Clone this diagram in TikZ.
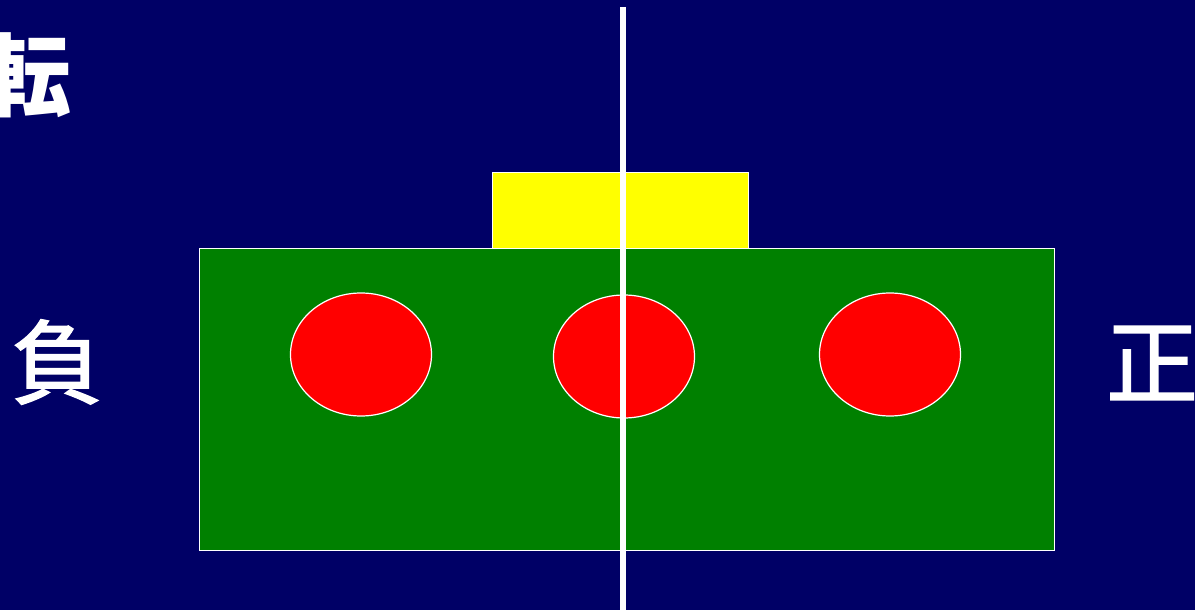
\documentclass[tikz,border=0pt]{standalone}
\usepackage{fontspec}
\newfontfamily\cjk{Noto Sans CJK JP}
\newfontfamily\cjkmid[FakeBold=1.6]{Noto Sans CJK JP}
\usetikzlibrary{shapes.geometric}
\definecolor{navybg}{HTML}{000066}
\definecolor{boardgreen}{HTML}{008000}
\definecolor{plateyellow}{HTML}{FFFF00}
\tikzset{
  plate/.style={draw=white, line width=1pt, inner sep=0pt},
  wheel/.style={ellipse, draw=white, line width=1.2pt, fill=red, minimum width=141pt, minimum height=123pt, inner sep=0pt},
  sidelabel/.style={text=white, inner sep=0pt, font=\cjkmid\fontsize{92}{92}\selectfont}
}
\begin{document}
\begin{tikzpicture}[x=1pt, y=-1pt]
\fill[navybg] (0,0) rectangle (1195,610);
\useasboundingbox (0,0) rectangle (1195,610);
\node[plate, fill=plateyellow, minimum width=256pt, minimum height=76pt] (top) at (620,210) {};
\node[plate, fill=boardgreen, minimum width=855pt, minimum height=302pt] (board) at (626.5,399.5) {};
\node[wheel] (left) at (361,354.5) {};
\node[wheel] (mid) at (624,356.5) {};
\node[wheel] (right) at (890,354.5) {};
\node[sidelabel, font=\cjk\bfseries\fontsize{90}{90}\selectfont] (turn) at (27,75) {転};
\node[sidelabel] (neg) at (57,362) {負};
\node[sidelabel] (pos) at (1152,363) {正};
\coordinate (axtop) at (623,7);
\coordinate (axbot) at (623,610);
\draw[white, line width=5.5pt] (axtop) -- (axbot);
\end{tikzpicture}
\end{document}
